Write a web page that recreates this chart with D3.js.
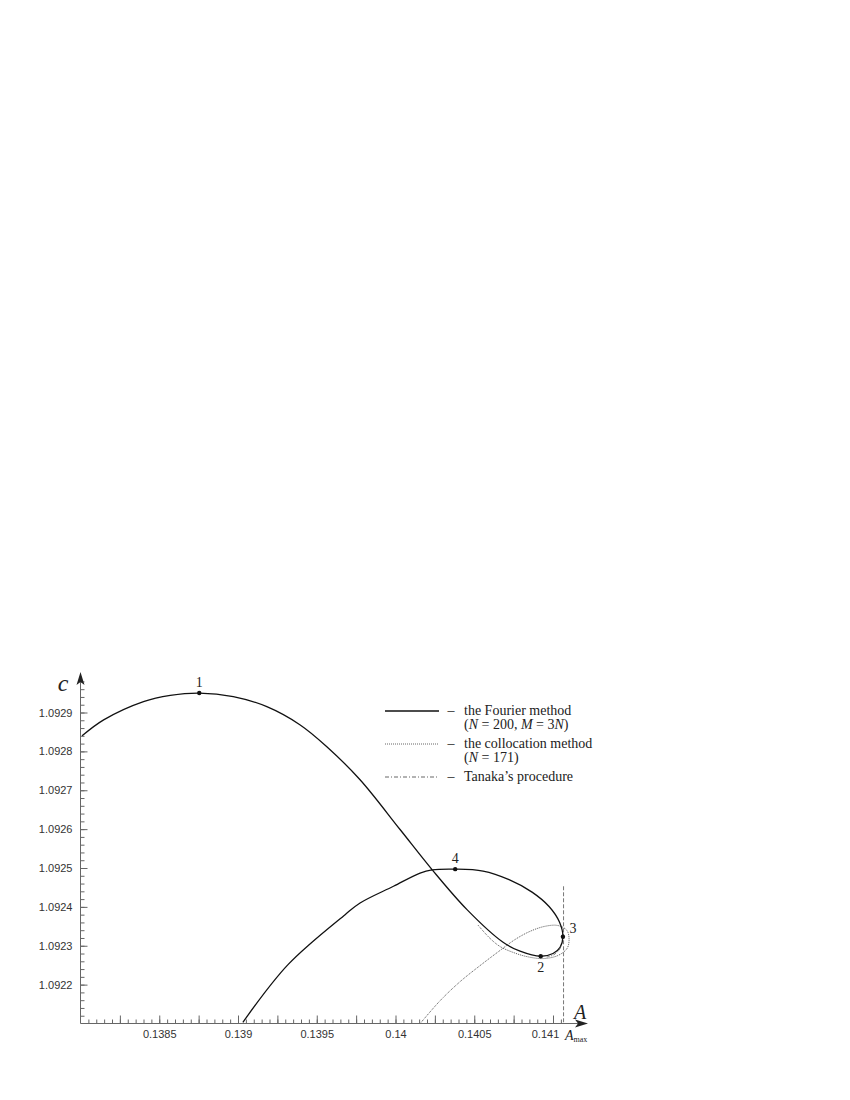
<!DOCTYPE html>
<html>
<head>
<meta charset="utf-8">
<script src="https://cdn.jsdelivr.net/npm/d3@7"></script>
<style>
  body { margin: 0; background: #fff; }
  svg { display: block; }
  .tick text { font-family: "Liberation Sans", Arial, sans-serif; font-size: 11px; fill: #333; }
  .tick line { stroke: #666; }
  .serif { font-family: "Liberation Serif", "Times New Roman", serif; fill: #222; }
</style>
</head>
<body>
<script>
// Fourier method branch (A, c)
var fourierA = [0.13801, 0.138147, 0.1384, 0.13857, 0.138754, 0.13897, 0.139183, 0.139395, 0.139564, 0.139775,
                0.140029, 0.140232, 0.140454, 0.140683, 0.140791, 0.140922, 0.141, 0.141045, 0.141063,
                0.141041, 0.140975, 0.140867, 0.140721, 0.140556, 0.140379, 0.140232, 0.140156,
                0.139987, 0.139775, 0.13968, 0.139319, 0.139031];
var fourierC = [1.09284, 1.092881, 1.092928, 1.092944, 1.09295, 1.092941, 1.092915, 1.092868, 1.092812, 1.092727,
                1.092599, 1.092496, 1.092393, 1.092309, 1.092286, 1.092273, 1.09228, 1.092296, 1.092323,
                1.092361, 1.092401, 1.092438, 1.09247, 1.092492, 1.092497, 1.092495, 1.092487,
                1.092453, 1.09241, 1.09238, 1.092252, 1.092103];

// collocation method
var collocA = [0.140163, 0.140284, 0.140411, 0.140537, 0.140664, 0.140759, 0.140854, 0.140949, 0.141032,
               0.141089, 0.141102, 0.141089, 0.141032, 0.140937, 0.140835, 0.140746, 0.140664, 0.1406, 0.140524];
var collocC = [1.092103, 1.092159, 1.092208, 1.092249, 1.092288, 1.092316, 1.092337, 1.09235, 1.092352,
               1.092339, 1.092314, 1.092293, 1.092275, 1.092267, 1.092272, 1.092283, 1.092298, 1.092319, 1.092353];

// Tanaka's procedure (only visible near points 2-3)
var tanakaA = [0.140960, 0.141005, 0.141038, 0.141055];
var tanakaC = [1.092276, 1.092282, 1.092294, 1.092309];

var pointA = [0.138754, 0.140922, 0.141063, 0.140379];
var pointC = [1.09295, 1.092273, 1.092323, 1.092497];
var pointLabels = ["1", "2", "3", "4"];

var Amax = 0.141067;

var xTicks = [0.1385, 0.139, 0.1395, 0.14, 0.1405, 0.141];
var xTickLabels = ["0.1385", "0.139", "0.1395", "0.14", "0.1405", "0.141"];
var yTicks = [1.0922, 1.0923, 1.0924, 1.0925, 1.0926, 1.0927, 1.0928, 1.0929];
var yTickLabels = ["1.0922", "1.0923", "1.0924", "1.0925", "1.0926", "1.0927", "1.0928", "1.0929"];

var legendItems = [
  {dash: null, lines: ["the Fourier method", "(N = 200, M = 3N)"]},
  {dash: "1,1", lines: ["the collocation method", "(N = 171)"]},
  {dash: "4,2,1,2", lines: ["Tanaka\u2019s procedure"]}
];

var width = 850, height = 1100;

var x = d3.scaleLinear().domain([0.138, 0.141]).range([80.5, 553]);
var y = d3.scaleLinear().domain([1.0921, 1.0929]).range([1023.5, 712.5]);

var svg = d3.select("body").append("svg")
    .attr("width", width)
    .attr("height", height);

var axisColor = "#666";

// minor ticks
var yMinor = d3.range(1, 50).map(function(i) { return 1.0921 + i * 0.00002; })
    .filter(function(v) { return y(v) > 678; });
var xMinor = d3.range(1, 62).map(function(i) { return 0.138 + i * 0.00005; });
var xMid = d3.range(1, 13).map(function(i) { return 0.138 + i * 0.00025; });

svg.append("g")
    .attr("transform", "translate(" + x(0.138) + ",0)")
    .call(d3.axisRight(y).tickValues(yMinor).tickSize(4).tickFormat(""))
    .call(function(g) { g.select(".domain").remove(); });

svg.append("g")
    .attr("transform", "translate(" + x(0.138) + ",0)")
    .call(d3.axisLeft(y).tickValues(yTicks).tickSize(-7).tickPadding(8)
      .tickFormat(function(d, i) { return yTickLabels[i]; }))
    .call(function(g) { g.select(".domain").remove(); });

svg.append("g")
    .attr("transform", "translate(0," + y(1.0921) + ")")
    .call(d3.axisBottom(x).tickValues(xMinor).tickSize(-4).tickFormat(""))
    .call(function(g) { g.select(".domain").remove(); });

svg.append("g")
    .attr("transform", "translate(0," + y(1.0921) + ")")
    .call(d3.axisBottom(x).tickValues(xMid).tickSize(-8).tickFormat(""))
    .call(function(g) { g.select(".domain").remove(); });

svg.append("g")
    .attr("transform", "translate(0," + y(1.0921) + ")")
    .call(d3.axisBottom(x).tickValues(xTicks).tickSize(0).tickPadding(7)
      .tickFormat(function(d, i) { return xTickLabels[i]; }))
    .call(function(g) {
      g.select(".domain").remove();
      // last label pushed left to make room for A_max
      g.selectAll(".tick text").filter(function(d) { return d === 0.141; }).attr("dx", -8);
    });

// axis lines with arrows
var x0 = x(0.138), y0 = y(1.0921);
svg.append("line").attr("x1", x0).attr("y1", y0).attr("x2", x0).attr("y2", 680)
    .attr("stroke", axisColor);
svg.append("line").attr("x1", x0).attr("y1", y0).attr("x2", 580).attr("y2", y0)
    .attr("stroke", axisColor);
svg.append("path").attr("d", "M" + x0 + ",672L" + (x0 - 4) + ",685L" + x0 + ",682L" + (x0 + 4) + ",685Z")
    .attr("fill", "#222");
svg.append("path").attr("d", "M588," + y0 + "L575," + (y0 - 4) + "L578," + y0 + "L575," + (y0 + 4) + "Z")
    .attr("fill", "#222");

// axis titles
svg.append("text").attr("class", "serif").attr("x", 63).attr("y", 691)
    .attr("text-anchor", "middle").style("font-style", "italic").style("font-size", "24px").text("c");
svg.append("text").attr("class", "serif").attr("x", 580).attr("y", 1019)
    .attr("text-anchor", "middle").style("font-style", "italic").style("font-size", "20px").text("A");
var amaxT = svg.append("text").attr("class", "serif").attr("x", 565).attr("y", 1040)
    .style("font-style", "italic").style("font-size", "14px");
amaxT.append("tspan").text("A");
amaxT.append("tspan").attr("dy", 2).style("font-size", "8px").style("font-style", "normal").text("max");

// A_max dashed line
svg.append("line")
    .attr("x1", x(Amax)).attr("x2", x(Amax))
    .attr("y1", y(1.092453)).attr("y2", y0)
    .attr("stroke", "#777").attr("stroke-dasharray", "4,2");

var line = d3.line()
    .x(function(d) { return x(d[0]); })
    .y(function(d) { return y(d[1]); })
    .curve(d3.curveCatmullRom.alpha(0.5));

function pairs(a, c) { return a.map(function(v, i) { return [v, c[i]]; }); }

svg.append("path")
    .datum(pairs(collocA, collocC))
    .attr("d", line)
    .attr("fill", "none").attr("stroke", "#444").attr("stroke-width", 0.9)
    .attr("stroke-dasharray", "1,1");

svg.append("path")
    .datum(pairs(fourierA, fourierC))
    .attr("d", line)
    .attr("fill", "none").attr("stroke", "#111").attr("stroke-width", 1.3);

svg.append("path")
    .datum(pairs(tanakaA, tanakaC))
    .attr("d", line)
    .attr("fill", "none").attr("stroke", "#666").attr("stroke-width", 0.9)
    .attr("stroke-dasharray", "3,1.5,1,1.5")
    .attr("transform", "translate(0,2)");

// marked points
var pts = pairs(pointA, pointC);
svg.selectAll("circle.pt").data(pts).enter().append("circle")
    .attr("class", "pt")
    .attr("cx", function(d) { return x(d[0]); })
    .attr("cy", function(d) { return y(d[1]); })
    .attr("r", 2.2).attr("fill", "#111");

var labelOff = [[0, -6], [0, 16], [10, -4], [0, -6]];
svg.selectAll("text.ptl").data(pts).enter().append("text")
    .attr("class", "serif ptl")
    .attr("x", function(d, i) { return x(d[0]) + labelOff[i][0]; })
    .attr("y", function(d, i) { return y(d[1]) + labelOff[i][1]; })
    .attr("text-anchor", "middle")
    .style("font-size", "14px")
    .text(function(d, i) { return pointLabels[i]; });

// legend
var lineGap = 14, itemGap = 19;
var lg = svg.append("g").attr("transform", "translate(385,711)");
var rowY = 0;
legendItems.forEach(function(item) {
  var l = lg.append("line").attr("x1", 0).attr("x2", 54).attr("y1", rowY).attr("y2", rowY)
      .attr("stroke", item.dash ? "#555" : "#111").attr("stroke-width", item.dash ? 0.9 : 1.3);
  if (item.dash) l.attr("stroke-dasharray", item.dash);
  lg.append("text").attr("class", "serif").attr("x", 66).attr("y", rowY + 4)
      .attr("text-anchor", "middle").style("font-size", "14px").text("\u2013");
  item.lines.forEach(function(t, j) {
    var tx = lg.append("text").attr("class", "serif").attr("x", 79).attr("y", rowY + 4 + j * lineGap)
        .style("font-size", "14px");
    // italic letters N and M
    t.split(/(N|M)/).forEach(function(part) {
      if (!part) return;
      var s = tx.append("tspan").text(part);
      if (part === "N" || part === "M") s.style("font-style", "italic");
    });
  });
  rowY += (item.lines.length - 1) * lineGap + itemGap;
});
</script>
</body>
</html>
